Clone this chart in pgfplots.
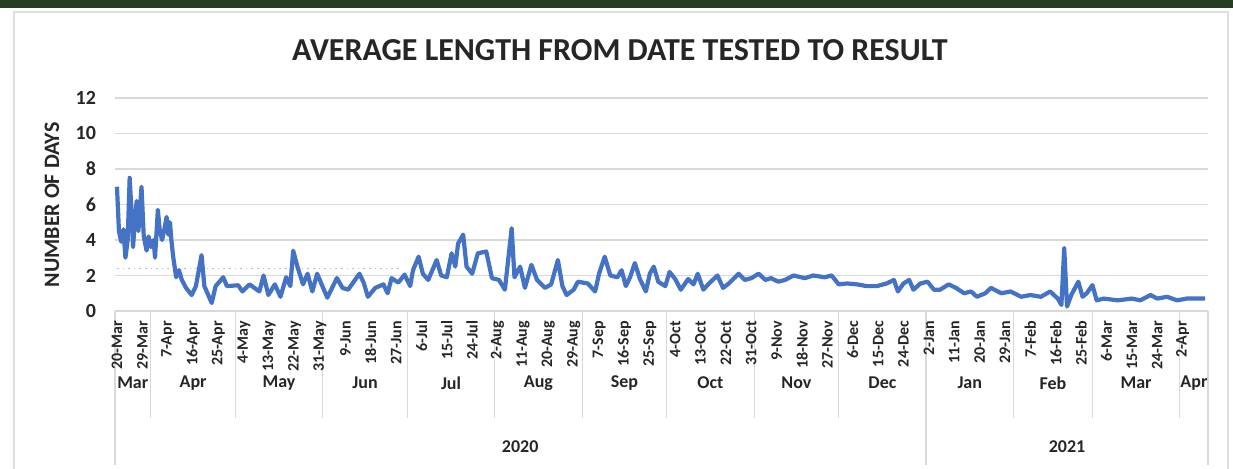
\documentclass[border=0pt]{standalone}
\usepackage{pgfplots}
\pgfplotsset{compat=1.18}
\usetikzlibrary{calc}
\usepackage{fontspec}
\setmainfont{Carlito}
\definecolor{xlblue}{HTML}{4472C4}
\definecolor{txt}{HTML}{262626}
\definecolor{gridc}{HTML}{D9D9D9}
\definecolor{band}{HTML}{263D23}
\begin{document}
\begin{tikzpicture}[
  month/.style={text=txt, font=\fontsize{9}{10}\selectfont\bfseries, yshift=-36pt},
  year/.style={text=txt, font=\fontsize{9}{10}\selectfont\bfseries, yshift=-68pt},
  sep/.style={gridc, line width=0.6pt},
]
% page frame
\path[use as bounding box, fill=white] (0,0) rectangle (616.5pt,234.5pt);
\fill[band] (0,230.5pt) rectangle (616.5pt,234.5pt);
\draw[gray!25, line width=0.6pt] (7pt,-1pt) -- (7pt,228.5pt) -- (614pt,228.5pt) -- (614pt,-1pt);

\begin{axis}[
  at={(57.5pt,79pt)}, anchor=south west,
  scale only axis, width=546.5pt, height=106.5pt,
  xmin=-0.7, xmax=387, ymin=0, ymax=12,
  ytick={0,2,...,12}, xtick=\empty,
  ymajorgrids, grid style={draw=gridc, line width=0.8pt},
  axis line style={draw=none}, tick style={draw=none},
  yticklabel style={text=txt, xshift=-6pt, font=\fontsize{10}{11}\selectfont\bfseries},
  /pgf/number format/assume math mode=true,
  clip=false,
]
% faint average line
\addplot[xlblue!45, dotted, line width=0.8pt] coordinates {(0,2.4) (100,2.4)};

\addplot[xlblue, line width=2.1pt, line join=round] coordinates {
(0,7.0) (0.7,4.5) (1.5,3.9) (2.3,4.6) (3,3.0) (3.8,4.0) (4.5,7.5) (5.2,5.5)
(5.7,3.6) (6.3,5.0) (7,6.2) (7.6,4.5) (8.7,7.0) (9.5,4.2) (10.5,3.4)
(11.2,4.2) (12,3.6) (13,4.0) (13.5,3.0) (14.5,5.7) (15.2,4.5) (16,4.0)
(16.8,4.6) (17.6,5.3) (18.2,4.3) (18.8,5.0) (19.3,4.0) (19.9,3.1) (21,1.9)
(22,2.3) (23,1.75) (24.5,1.3) (26.5,0.9) (28,1.4) (30,3.15) (31,1.4)
(33.6,0.45) (35,1.4) (37.7,1.9) (39,1.4) (43,1.45) (44.5,1.1) (47,1.5)
(50.5,1.1) (52,2.0) (53.7,0.9) (56,1.5) (58,0.8) (60,1.9) (61.5,1.4)
(62.5,3.4) (64,2.5) (66,1.5) (67.6,2.1) (69.3,1.1) (71,2.1) (74.6,0.75)
(78,1.85) (80,1.3) (82,1.2) (86,2.1) (87.5,1.6) (89,0.8) (91.6,1.3)
(94.5,1.5) (96,1.0) (97.4,1.85) (99.8,1.6) (102,2.05) (104,1.4) (105,2.3)
(107,3.06) (108.5,2.1) (110.4,1.75) (113.4,2.87) (115,2.0) (117,1.9)
(118.7,3.25) (120,2.5) (121,3.8) (122.8,4.3) (124,2.5) (126,2.1) (128,3.25)
(131,3.35) (133,1.85) (135.5,1.75) (137.6,1.2) (140,4.66) (141,1.9)
(143,2.5) (144.7,1.3) (147,2.6) (149,1.75) (151.8,1.3) (154,1.5)
(156.4,2.87) (158,1.4) (159.5,0.9) (162,1.2) (163.5,1.65) (167,1.55)
(169.6,1.1) (171,2.1) (173,3.06) (175,2.0) (177.5,1.9) (179,2.3) (180.5,1.4)
(182,1.9) (183.7,2.7) (185.5,1.8) (187.6,1.1) (189,2.1) (190.4,2.5)
(192,1.65) (194.5,1.4) (196,2.2) (198,1.8) (200,1.2) (202.6,1.8) (204.5,1.5)
(206,2.1) (208,1.2) (210,1.55) (213,2.0) (215,1.3) (217,1.55) (220.5,2.1)
(222.7,1.75) (225,1.85) (227.6,2.1) (230,1.75) (232,1.85) (234.6,1.65)
(237,1.75) (240,2.0) (244,1.85) (247,2.0) (251,1.9) (253.5,2.0) (256,1.5)
(259,1.55) (262.5,1.5) (266,1.4) (269.5,1.4) (273,1.55) (275.6,1.75)
(277,1.1) (279,1.55) (281,1.75) (282.5,1.2) (285,1.55) (287.5,1.65)
(289.8,1.2) (292,1.2) (295,1.5) (297.6,1.3) (300.5,1.0) (303,1.1) (305,0.8)
(308,1.0) (310,1.3) (313.7,1.0) (317,1.1) (320.7,0.8) (324,0.9) (327.7,0.8)
(331,1.1) (333.7,0.7) (335,0.34) (336,3.53) (337,0.25) (338.5,0.9)
(341,1.65) (342.5,0.8) (344,1.0) (346,1.46) (347.5,0.6) (350,0.7) (355,0.6)
(360,0.7) (363,0.6) (366.6,0.9) (369,0.7) (372.5,0.8) (376,0.6) (379.5,0.7)
(383,0.7) (386,0.7)
};

% reference points for the date labels
\coordinate (d0) at (axis cs:0,0);
\coordinate (d1) at (axis cs:9,0);

% category separators (months)
\draw[sep] (axis cs:12,0) -- ++(0pt,-53.5pt);
\draw[sep] (axis cs:42,0) -- ++(0pt,-53.5pt);
\draw[sep] (axis cs:73,0) -- ++(0pt,-53.5pt);
\draw[sep] (axis cs:103,0) -- ++(0pt,-53.5pt);
\draw[sep] (axis cs:134,0) -- ++(0pt,-53.5pt);
\draw[sep] (axis cs:165,0) -- ++(0pt,-53.5pt);
\draw[sep] (axis cs:195,0) -- ++(0pt,-53.5pt);
\draw[sep] (axis cs:226,0) -- ++(0pt,-53.5pt);
\draw[sep] (axis cs:256,0) -- ++(0pt,-53.5pt);
\draw[sep] (axis cs:318,0) -- ++(0pt,-53.5pt);
\draw[sep] (axis cs:346,0) -- ++(0pt,-53.5pt);
\draw[sep] (axis cs:377,0) -- ++(0pt,-53.5pt);
% separators (years)
\draw[sep] (axis cs:-0.7,0) -- ++(0pt,-77pt);
\draw[sep] (axis cs:287,0) -- ++(0pt,-77pt);
\draw[sep] (axis cs:387,0) -- ++(0pt,-77pt);

% month labels
\node[month] at (axis cs:5.6,0) {Mar};
\node[month] at (axis cs:27,0) {Apr};
\node[month] at (axis cs:57.5,0) {May};
\node[month] at (axis cs:88,0) {Jun};
\node[month] at (axis cs:118.5,0) {Jul};
\node[month] at (axis cs:149.5,0) {Aug};
\node[month] at (axis cs:180,0) {Sep};
\node[month] at (axis cs:210.5,0) {Oct};
\node[month] at (axis cs:241,0) {Nov};
\node[month] at (axis cs:271.5,0) {Dec};
\node[month] at (axis cs:302.5,0) {Jan};
\node[month] at (axis cs:332,0) {Feb};
\node[month] at (axis cs:361.5,0) {Mar};
\node[month] at (axis cs:382,0) {Apr};
% year labels
\node[year] at (axis cs:143,0) {2020};
\node[year] at (axis cs:337,0) {2021};
\end{axis}

% rotated date labels, every 9 days
\foreach \lab [count=\i from 0] in {20-Mar,29-Mar,7-Apr,16-Apr,25-Apr,4-May,13-May,22-May,31-May,9-Jun,18-Jun,27-Jun,6-Jul,15-Jul,24-Jul,2-Aug,11-Aug,20-Aug,29-Aug,7-Sep,16-Sep,25-Sep,4-Oct,13-Oct,22-Oct,31-Oct,9-Nov,18-Nov,27-Nov,6-Dec,15-Dec,24-Dec,2-Jan,11-Jan,20-Jan,29-Jan,7-Feb,16-Feb,25-Feb,6-Mar,15-Mar,24-Mar,2-Apr}{
  \node[rotate=90, anchor=east, text=txt,
        font=\fontsize{8}{9}\selectfont\bfseries]
    at ($(d0)!\i!(d1)+(0,-1.5pt)$) {\lab};
}

\node[text=txt, font=\fontsize{16}{18}\selectfont\bfseries] at (310pt,209.5pt) {AVERAGE LENGTH FROM DATE TESTED TO RESULT};
\node[text=txt, rotate=90, font=\fontsize{11}{13}\selectfont\bfseries] at (26pt,132pt) {NUMBER OF DAYS};
\end{tikzpicture}
\end{document}
